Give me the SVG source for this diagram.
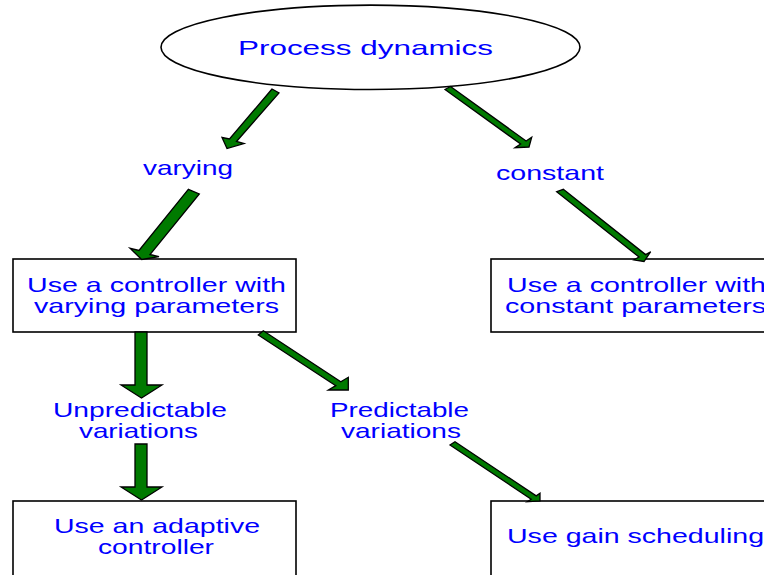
<svg xmlns="http://www.w3.org/2000/svg" width="764" height="575" viewBox="0 0 764 575">
<style>
.box{fill:#fff;stroke:#000;stroke-width:1.6}
.t{font-family:"Liberation Sans",Arial,sans-serif;font-size:21px;fill:#0000ff}
.arr{fill:#007a00;stroke:#000;stroke-width:1.3;stroke-linejoin:miter}
</style>
<rect x="0" y="0" width="764" height="575" fill="#fff"/>
<g id="process-dynamics">
<ellipse cx="370.5" cy="47.3" rx="209.5" ry="42.2" class="box"/>
<text class="t" x="238" y="54.5" textLength="255" lengthAdjust="spacingAndGlyphs">Process dynamics</text>
</g>
<g id="label-varying">
<text class="t" x="143" y="175" textLength="90" lengthAdjust="spacingAndGlyphs">varying</text>
</g>
<g id="label-constant">
<text class="t" x="496" y="180" textLength="108" lengthAdjust="spacingAndGlyphs">constant</text>
</g>
<g id="varying-controller">
<rect x="13" y="259" width="283" height="73" class="box"/>
<text class="t" x="27" y="292" textLength="259" lengthAdjust="spacingAndGlyphs">Use a controller with</text>
<text class="t" x="34" y="313" textLength="245" lengthAdjust="spacingAndGlyphs">varying parameters</text>
</g>
<g id="constant-controller">
<rect x="491" y="259" width="283" height="73" class="box"/>
<text class="t" x="507" y="292" textLength="259" lengthAdjust="spacingAndGlyphs">Use a controller with</text>
<text class="t" x="505" y="313" textLength="261" lengthAdjust="spacingAndGlyphs">constant parameters</text>
</g>
<g id="label-unpredictable">
<text class="t" x="53" y="416.5" textLength="174" lengthAdjust="spacingAndGlyphs">Unpredictable</text>
<text class="t" x="79" y="438" textLength="119" lengthAdjust="spacingAndGlyphs">variations</text>
</g>
<g id="label-predictable">
<text class="t" x="330" y="416.5" textLength="139" lengthAdjust="spacingAndGlyphs">Predictable</text>
<text class="t" x="341" y="438" textLength="120" lengthAdjust="spacingAndGlyphs">variations</text>
</g>
<g id="adaptive-controller">
<rect x="13" y="501" width="283" height="100" class="box"/>
<text class="t" x="54" y="533" textLength="206" lengthAdjust="spacingAndGlyphs">Use an adaptive</text>
<text class="t" x="98" y="554" textLength="116" lengthAdjust="spacingAndGlyphs">controller</text>
</g>
<g id="gain-scheduling">
<rect x="491" y="501" width="283" height="100" class="box"/>
<text class="t" x="507" y="543" textLength="257" lengthAdjust="spacingAndGlyphs">Use gain scheduling</text>
</g>
<g id="connectors">
<polygon class="arr" points="272,89 229.5,139 222,137.5 227,148.5 244,143.5 236.5,141.5 279,93"/>
<polygon class="arr" points="188.3,189.3 139,250.5 130,248.3 141.7,259.5 159,256.7 150,254.5 199.3,194"/>
<polygon class="arr" points="445,89.5 520.6,144 515,147.7 529,147 531.7,137.3 526.1,141 450.5,86.5"/>
<polygon class="arr" points="556.7,191.7 639,257 634,260 644,261.5 650.7,251.7 645.6,254.6 563.3,189.3"/>
<polygon class="arr" points="135,332 135,385 121,385 141.5,398 162,385 147,385 147,332"/>
<polygon class="arr" points="135,444 135,487 121,487 141.5,500 162,487 147,487 147,444"/>
<polygon class="arr" points="258.3,335 335.8,385.6 328.3,390 348.3,390 348.3,377.3 340.8,381.8 263.3,330.7"/>
<polygon class="arr" points="450,445 531.2,499.2 527.3,501.7 540,501 540,493.3 536.2,495.9 455,441.7"/>
</g>
</svg>
